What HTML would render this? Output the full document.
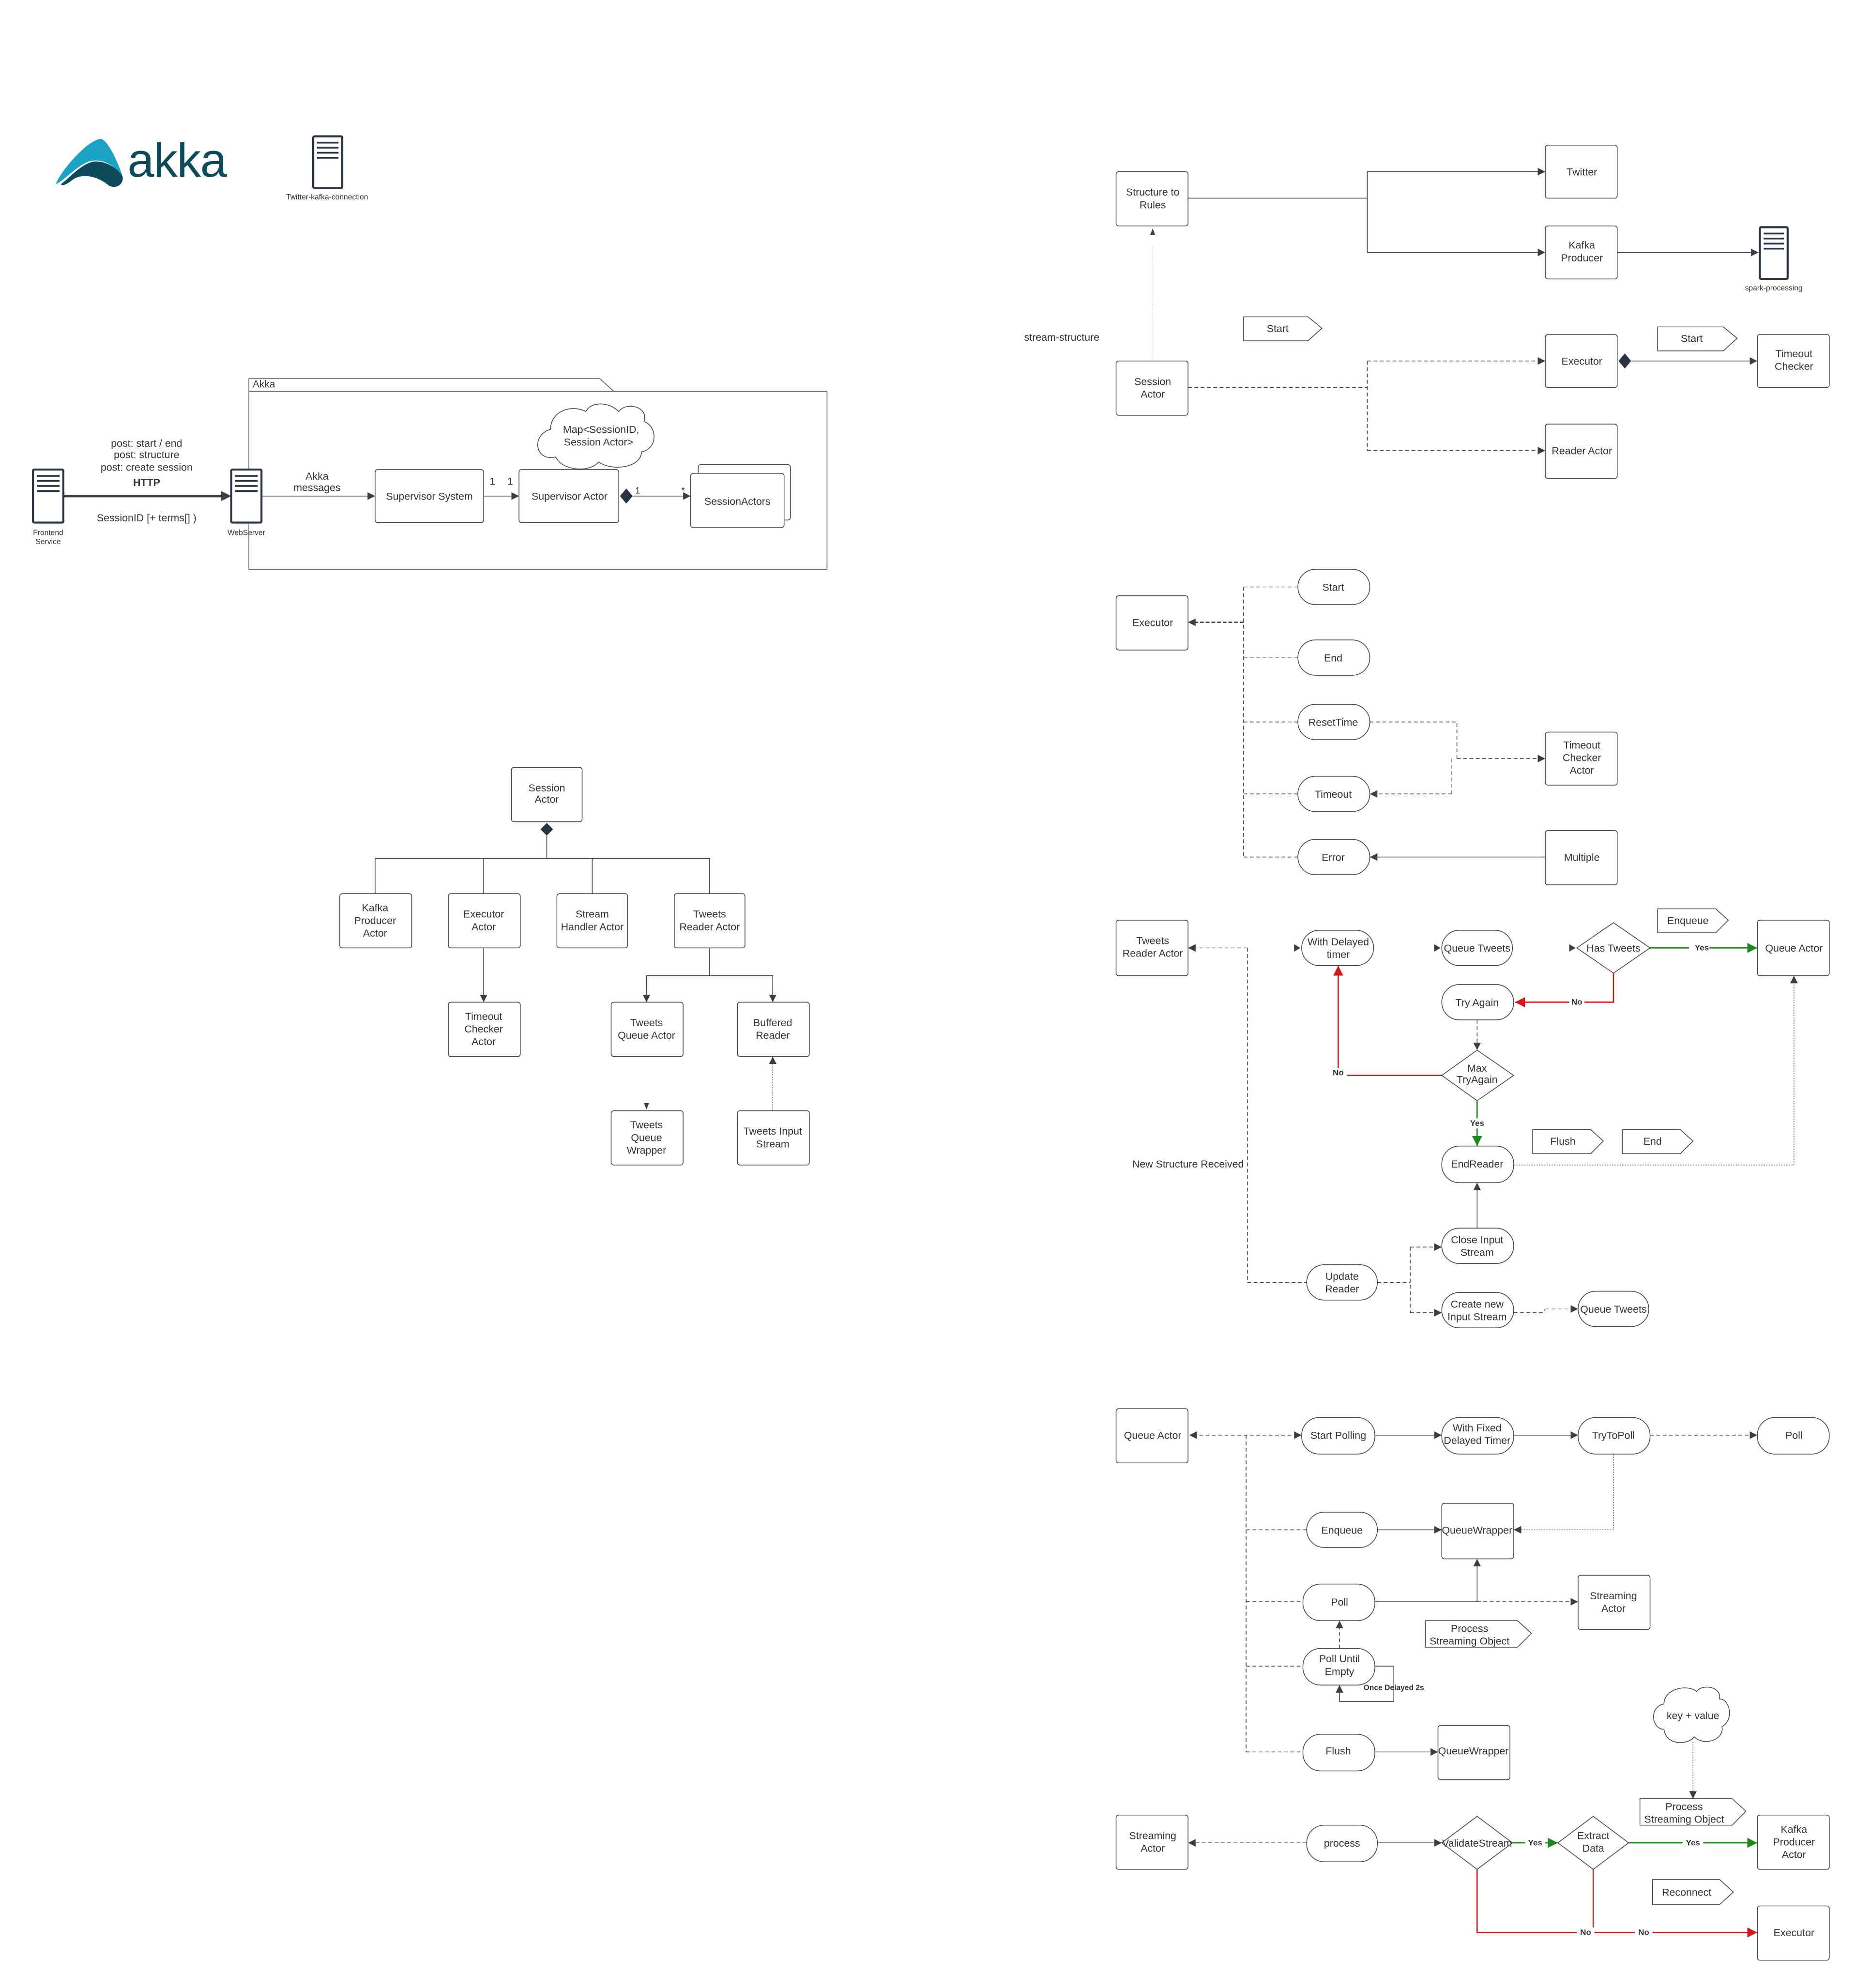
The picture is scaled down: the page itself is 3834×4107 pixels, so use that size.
<!DOCTYPE html>
<html><head><meta charset="utf-8">
<style>
html,body{margin:0;padding:0;background:#fff;}
svg{display:block;}
text{font-family:"Liberation Sans",sans-serif;font-size:8.2px;fill:#333;text-anchor:middle;}
.b{fill:#fff;stroke:#444;stroke-width:.6;}
.l{fill:none;stroke:#3a3f47;stroke-width:.6;}
.d{fill:none;stroke:#3a3f47;stroke-width:.6;stroke-dasharray:3,2;}
.g{fill:none;stroke:#999;stroke-width:.6;stroke-dasharray:3,2;}
.o{fill:none;stroke:#3a3f47;stroke-width:.5;stroke-dasharray:1,1;}
.r{fill:none;stroke:#d81818;stroke-width:1;}
.gr{fill:none;stroke:#1a8a1a;stroke-width:1;}
.sv{fill:#fff;stroke:#2b3340;stroke-width:1.6;}
.bar{stroke:#2b3340;stroke-width:1.4;}
</style></head><body>
<svg width="3834" height="4107" viewBox="0 0 1470 1575" xmlns="http://www.w3.org/2000/svg">
<defs>
<marker id="a" markerUnits="userSpaceOnUse" markerWidth="7" markerHeight="7" refX="6" refY="3" orient="auto"><path d="M0,0 L6,3 L0,6 Z" fill="#3a3f47"/></marker>
<marker id="ar" markerUnits="userSpaceOnUse" markerWidth="9" markerHeight="9" refX="8" refY="4" orient="auto"><path d="M0,0 L8,4 L0,8 Z" fill="#d81818"/></marker>
<marker id="ag" markerUnits="userSpaceOnUse" markerWidth="9" markerHeight="9" refX="8" refY="4" orient="auto"><path d="M0,0 L8,4 L0,8 Z" fill="#1a8a1a"/></marker>
</defs>
<rect width="1470" height="1575" fill="#fff"/>

<!-- Akka logo -->
<path d="M44,146 C48,135 70,110 80,110 C86,112 94,130 97,140 C90,130 80,125 70,128 C60,132 52,142 44,146 Z" fill="#1ba3c6"/>
<path d="M48,146 C56,140 64,130 74,128 C84,127 94,134 97,140 C98,146 92,150 86,147 C78,140 66,137 58,142 C54,145 50,148 48,146 Z" fill="#0b4b5a"/>
<text x="140" y="140" style="font-size:38px;fill:#0b4b5a;letter-spacing:-0.5px">akka</text>

<!-- server icons -->
<g><rect x="248" y="108" width="23" height="41" rx="1" class="sv"/><line x1="251" y1="113" x2="268" y2="113" class="bar"/><line x1="251" y1="117" x2="268" y2="117" class="bar"/><line x1="251" y1="121" x2="268" y2="121" class="bar"/><line x1="251" y1="125" x2="268" y2="125" class="bar"/></g>
<text x="259" y="158" style="font-size:6px">Twitter-kafka-connection</text>

<!-- Akka package -->
<path d="M197,451 L197,300 L475,300 L486,310 L655,310 L655,451 Z" fill="none" stroke="#555" stroke-width=".6"/>
<line x1="197" y1="310" x2="486" y2="310" stroke="#555" stroke-width=".6"/>
<text x="200" y="307" style="text-anchor:start;font-size:8px">Akka</text>

<g><rect x="26" y="372" width="24" height="42" rx="1" class="sv"/><line x1="29" y1="377" x2="47" y2="377" class="bar"/><line x1="29" y1="381" x2="47" y2="381" class="bar"/><line x1="29" y1="385" x2="47" y2="385" class="bar"/><line x1="29" y1="389" x2="47" y2="389" class="bar"/></g>
<text x="38" y="424" style="font-size:6px">Frontend</text><text x="38" y="431" style="font-size:6px">Service</text>
<g><rect x="183" y="372" width="24" height="42" rx="1" class="sv"/><line x1="186" y1="377" x2="204" y2="377" class="bar"/><line x1="186" y1="381" x2="204" y2="381" class="bar"/><line x1="186" y1="385" x2="204" y2="385" class="bar"/><line x1="186" y1="389" x2="204" y2="389" class="bar"/></g>
<text x="195" y="424" style="font-size:6px">WebServer</text>
<line x1="50" y1="393" x2="177" y2="393" stroke="#3a3f47" stroke-width="2"/><path d="M175,389 L183,393 L175,397 Z" fill="#3a3f47"/>
<text x="116" y="354">post: start / end</text>
<text x="116" y="363">post: structure</text>
<text x="116" y="373">post: create session</text>
<text x="116" y="385" style="font-weight:bold">HTTP</text>
<text x="116" y="413">SessionID [+ terms[] )</text>
<line x1="207" y1="393" x2="297" y2="393" class="l" marker-end="url(#a)"/>
<text x="251" y="380">Akka</text><text x="251" y="389">messages</text>
<rect x="297" y="372" width="86" height="42" rx="2" class="b"/><text x="340" y="396">Supervisor System</text>
<line x1="383" y1="393" x2="411" y2="393" class="l" marker-end="url(#a)"/>
<text x="390" y="384">1</text><text x="404" y="384">1</text>
<rect x="411" y="372" width="79" height="42" rx="2" class="b"/><text x="451" y="396">Supervisor Actor</text>
<path d="M491,393 L496,387 L501,393 L496,399 Z" fill="#2b3340"/>
<line x1="501" y1="393" x2="547" y2="393" class="l" marker-end="url(#a)"/>
<text x="505" y="391" style="font-size:7px">1</text><text x="541" y="391" style="font-size:7px">*</text>
<rect x="553" y="368" width="73" height="44" rx="2" class="b"/>
<rect x="547" y="375" width="74" height="43" rx="2" class="b"/><text x="584" y="400">SessionActors</text>
<path d="M436,340 C420,345 424,366 440,362 C446,374 468,374 474,366 C486,374 508,370 508,358 C522,355 520,337 510,334 C514,322 496,318 490,326 C482,318 468,318 464,326 C452,320 436,326 436,340 Z" fill="#fff" stroke="#444" stroke-width=".6"/>
<text x="476" y="343">Map&lt;SessionID,</text><text x="474" y="353">Session Actor&gt;</text>

<!-- tree -->
<rect x="405" y="608" width="56" height="43" rx="2" class="b"/><text x="433" y="627">Session</text><text x="433" y="636">Actor</text>
<path d="M433,652 L438,657 L433,662 L428,657 Z" fill="#2b3340"/>
<path d="M433,662 L433,680 M297,708 L297,680 L562,680 L562,708 M383,680 L383,708 M469,680 L469,708" class="l"/>
<rect x="269" y="708" width="57" height="43" rx="2" class="b"/><text x="297" y="722">Kafka</text><text x="297" y="732">Producer</text><text x="297" y="742">Actor</text>
<rect x="355" y="708" width="57" height="43" rx="2" class="b"/><text x="383" y="727">Executor</text><text x="383" y="737">Actor</text>
<rect x="441" y="708" width="56" height="43" rx="2" class="b"/><text x="469" y="727">Stream</text><text x="469" y="737">Handler Actor</text>
<rect x="534" y="708" width="56" height="43" rx="2" class="b"/><text x="562" y="727">Tweets</text><text x="562" y="737">Reader Actor</text>
<line x1="383" y1="751" x2="383" y2="794" class="l" marker-end="url(#a)"/>
<rect x="355" y="794" width="57" height="43" rx="2" class="b"/><text x="383" y="808">Timeout</text><text x="383" y="818">Checker</text><text x="383" y="828">Actor</text>
<path d="M562,751 L562,773 M512,794 L512,773 L612,773 L612,794" class="l"/>
<line x1="512" y1="785" x2="512" y2="794" class="l" marker-end="url(#a)"/><line x1="612" y1="785" x2="612" y2="794" class="l" marker-end="url(#a)"/>
<rect x="484" y="794" width="57" height="43" rx="2" class="b"/><text x="512" y="813">Tweets</text><text x="512" y="823">Queue Actor</text>
<rect x="584" y="794" width="57" height="43" rx="2" class="b"/><text x="612" y="813">Buffered</text><text x="612" y="823">Reader</text>
<path d="M510,874 L514,874 L512,879 Z" fill="#3a3f47"/>
<rect x="484" y="880" width="57" height="43" rx="2" class="b"/><text x="512" y="894">Tweets</text><text x="512" y="904">Queue</text><text x="512" y="914">Wrapper</text>
<rect x="584" y="880" width="57" height="43" rx="2" class="b"/><text x="612" y="899">Tweets Input</text><text x="612" y="909">Stream</text>
<line x1="612" y1="880" x2="612" y2="837" class="o" marker-end="url(#a)"/>

<!-- right top -->
<rect x="884" y="136" width="57" height="43" rx="2" class="b"/><text x="913" y="155">Structure to</text><text x="913" y="165">Rules</text>
<path d="M911,186 L913,181 L915,186 Z" fill="#3a3f47"/>
<line x1="913" y1="195" x2="913" y2="286" stroke="#ccc" stroke-width=".4" stroke-dasharray="1,1"/>
<path d="M941,157 L1083,157 M1083,136 L1083,200" class="l"/>
<line x1="1083" y1="136" x2="1224" y2="136" class="l" marker-end="url(#a)"/>
<line x1="1083" y1="200" x2="1224" y2="200" class="l" marker-end="url(#a)"/>
<rect x="1224" y="115" width="57" height="42" rx="2" class="b"/><text x="1253" y="139">Twitter</text>
<rect x="1224" y="179" width="57" height="42" rx="2" class="b"/><text x="1253" y="197">Kafka</text><text x="1253" y="207">Producer</text>
<line x1="1281" y1="200" x2="1393" y2="200" class="l" marker-end="url(#a)"/>
<g><rect x="1394" y="180" width="22" height="41" rx="1" class="sv"/><line x1="1397" y1="185" x2="1413" y2="185" class="bar"/><line x1="1397" y1="189" x2="1413" y2="189" class="bar"/><line x1="1397" y1="193" x2="1413" y2="193" class="bar"/><line x1="1397" y1="197" x2="1413" y2="197" class="bar"/></g>
<text x="1405" y="230" style="font-size:6px">spark-processing</text>

<text x="841" y="270">stream-structure</text>
<path d="M985,251 L1036,251 L1047,260 L1036,270 L985,270 Z" class="b"/><text x="1012" y="263">Start</text>
<rect x="884" y="286" width="57" height="43" rx="2" class="b"/><text x="913" y="305">Session</text><text x="913" y="315">Actor</text>
<path d="M941,307 L1083,307 M1083,286 L1083,357" class="d"/>
<line x1="1083" y1="286" x2="1224" y2="286" class="d" marker-end="url(#a)"/>
<line x1="1083" y1="357" x2="1224" y2="357" class="d" marker-end="url(#a)"/>
<rect x="1224" y="265" width="57" height="42" rx="2" class="b"/><text x="1253" y="289">Executor</text>
<rect x="1224" y="336" width="57" height="43" rx="2" class="b"/><text x="1253" y="360">Reader Actor</text>
<path d="M1282,286 L1287,280 L1292,286 L1287,292 Z" fill="#2b3340"/>
<line x1="1292" y1="286" x2="1392" y2="286" class="l" marker-end="url(#a)"/>
<path d="M1313,259 L1365,259 L1376,268 L1365,278 L1313,278 Z" class="b"/><text x="1340" y="271">Start</text>
<rect x="1392" y="265" width="57" height="42" rx="2" class="b"/><text x="1421" y="283">Timeout</text><text x="1421" y="293">Checker</text>

<!-- executor section -->
<rect x="884" y="472" width="57" height="43" rx="2" class="b"/><text x="913" y="496">Executor</text>
<line x1="985" y1="493" x2="941" y2="493" stroke="#3a3f47" stroke-width="1" stroke-dasharray="3,1.5" marker-end="url(#a)"/>
<path d="M985,465 L985,679" class="d"/>
<path d="M985,465 L1028,465 M985,521 L1028,521" class="g"/>
<path d="M985,572 L1028,572 M985,629 L1028,629 M985,679 L1028,679" class="d"/>
<rect x="1028" y="451" width="57" height="28" rx="14" class="b"/><text x="1056" y="468">Start</text>
<rect x="1028" y="507" width="57" height="28" rx="14" class="b"/><text x="1056" y="524">End</text>
<rect x="1028" y="558" width="57" height="28" rx="14" class="b"/><text x="1056" y="575">ResetTime</text>
<rect x="1028" y="615" width="57" height="28" rx="14" class="b"/><text x="1056" y="632">Timeout</text>
<rect x="1028" y="665" width="57" height="28" rx="14" class="b"/><text x="1056" y="682">Error</text>
<path d="M1085,572 L1154,572 L1154,601" class="d"/>
<line x1="1154" y1="601" x2="1224" y2="601" class="d" marker-end="url(#a)"/>
<path d="M1150,601 L1150,629" class="d"/>
<line x1="1150" y1="629" x2="1085" y2="629" class="d" marker-end="url(#a)"/>
<rect x="1224" y="580" width="57" height="42" rx="2" class="b"/><text x="1253" y="593">Timeout</text><text x="1253" y="603">Checker</text><text x="1253" y="613">Actor</text>
<rect x="1224" y="658" width="57" height="43" rx="2" class="b"/><text x="1253" y="682">Multiple</text>
<line x1="1224" y1="679" x2="1085" y2="679" class="l" marker-end="url(#a)"/>

<!-- tweets reader section -->
<rect x="884" y="729" width="57" height="44" rx="2" class="b"/><text x="913" y="748">Tweets</text><text x="913" y="758">Reader Actor</text>
<line x1="988" y1="751" x2="941" y2="751" class="g" marker-end="url(#a)"/>
<path d="M988,751 L988,1016 L1035,1016" class="d"/>
<text x="941" y="925">New Structure Received</text>
<rect x="1031" y="737" width="57" height="28" rx="14" class="b"/><text x="1060" y="749">With Delayed</text><text x="1060" y="759">timer</text>
<path d="M1025,748 L1030,751 L1025,754 Z" fill="#3a3f47"/>
<rect x="1142" y="737" width="56" height="28" rx="14" class="b"/><text x="1170" y="754">Queue Tweets</text>
<path d="M1136,748 L1141,751 L1136,754 Z" fill="#3a3f47"/>
<path d="M1278,731 L1307,751 L1278,771 L1249,751 Z" class="b"/><text x="1278" y="754">Has Tweets</text>
<path d="M1243,748 L1248,751 L1243,754 Z" fill="#3a3f47"/>
<line x1="1307" y1="751" x2="1392" y2="751" class="gr" marker-end="url(#ag)"/>
<rect x="1338" y="746" width="16" height="9" fill="#fff"/><text x="1348" y="753" style="font-size:6.5px;font-weight:bold">Yes</text>
<rect x="1392" y="729" width="57" height="44" rx="2" class="b"/><text x="1421" y="754">Queue Actor</text>
<path d="M1313,720 L1359,720 L1369,729 L1359,739 L1313,739 Z" class="b"/><text x="1337" y="732">Enqueue</text>
<path d="M1278,771 L1278,794 L1200,794" class="r" marker-end="url(#ar)"/>
<rect x="1243" y="790" width="12" height="8" fill="#fff"/><text x="1249" y="796" style="font-size:6.5px;font-weight:bold">No</text>
<rect x="1142" y="780" width="57" height="28" rx="14" class="b"/><text x="1170" y="797">Try Again</text>
<line x1="1170" y1="808" x2="1170" y2="832" class="d" marker-end="url(#a)"/>
<path d="M1170,832 L1199,852 L1170,872 L1142,852 Z" class="b"/><text x="1170" y="849">Max</text><text x="1170" y="858">TryAgain</text>
<path d="M1142,852 L1060,852 L1060,765" class="r" marker-end="url(#ar)"/>
<rect x="1053" y="846" width="14" height="8" fill="#fff"/><text x="1060" y="852" style="font-size:6.5px;font-weight:bold">No</text>
<path d="M1170,872 L1170,908" class="gr" marker-end="url(#ag)"/>
<rect x="1162" y="886" width="16" height="8" fill="#fff"/><text x="1170" y="892" style="font-size:6.5px;font-weight:bold">Yes</text>
<rect x="1142" y="908" width="57" height="29" rx="14" class="b"/><text x="1170" y="925">EndReader</text>
<path d="M1199,923 L1421,923 L1421,773" class="o" marker-end="url(#a)"/>
<path d="M1214,895 L1260,895 L1270,904 L1260,914 L1214,914 Z" class="b"/><text x="1238" y="907">Flush</text>
<path d="M1285,895 L1331,895 L1341,904 L1331,914 L1285,914 Z" class="b"/><text x="1309" y="907">End</text>
<rect x="1142" y="973" width="57" height="28" rx="14" class="b"/><text x="1170" y="985">Close Input</text><text x="1170" y="995">Stream</text>
<line x1="1170" y1="973" x2="1170" y2="937" class="l" marker-end="url(#a)"/>
<rect x="1035" y="1002" width="56" height="28" rx="14" class="b"/><text x="1063" y="1014">Update</text><text x="1063" y="1024">Reader</text>
<path d="M1091,1016 L1117,1016 M1117,988 L1117,1040" class="d"/>
<line x1="1117" y1="988" x2="1142" y2="988" class="d" marker-end="url(#a)"/>
<line x1="1117" y1="1040" x2="1142" y2="1040" class="d" marker-end="url(#a)"/>
<rect x="1142" y="1024" width="57" height="28" rx="14" class="b"/><text x="1170" y="1036">Create new</text><text x="1170" y="1046">Input Stream</text>
<path d="M1199,1040 L1222,1040 L1224,1037" class="d"/>
<line x1="1224" y1="1037" x2="1250" y2="1037" class="g" marker-end="url(#a)"/>
<rect x="1250" y="1023" width="56" height="28" rx="14" class="b"/><text x="1278" y="1040">Queue Tweets</text>

<!-- queue actor section -->
<rect x="884" y="1116" width="57" height="43" rx="2" class="b"/><text x="913" y="1140">Queue Actor</text>
<line x1="950" y1="1137" x2="1031" y2="1137" class="d" marker-end="url(#a)"/>
<path d="M948,1134 L942,1137 L948,1140 Z" fill="#3a3f47"/>
<path d="M987,1137 L987,1388" class="d"/>
<path d="M987,1212 L1035,1212 M987,1269 L1032,1269 M987,1320 L1032,1320 M987,1388 L1032,1388" class="d"/>
<rect x="1031" y="1123" width="58" height="29" rx="14" class="b"/><text x="1060" y="1140">Start Polling</text>
<line x1="1089" y1="1137" x2="1142" y2="1137" class="l" marker-end="url(#a)"/>
<rect x="1142" y="1123" width="57" height="29" rx="14" class="b"/><text x="1170" y="1134">With Fixed</text><text x="1170" y="1144">Delayed Timer</text>
<line x1="1199" y1="1137" x2="1250" y2="1137" class="l" marker-end="url(#a)"/>
<rect x="1250" y="1123" width="57" height="29" rx="14" class="b"/><text x="1278" y="1140">TryToPoll</text>
<line x1="1307" y1="1137" x2="1392" y2="1137" class="d" marker-end="url(#a)"/>
<rect x="1392" y="1123" width="57" height="29" rx="14" class="b"/><text x="1421" y="1140">Poll</text>
<path d="M1278,1152 L1278,1212 L1199,1212" class="o" marker-end="url(#a)"/>
<rect x="1035" y="1198" width="56" height="28" rx="14" class="b"/><text x="1063" y="1215">Enqueue</text>
<line x1="1091" y1="1212" x2="1142" y2="1212" class="l" marker-end="url(#a)"/>
<rect x="1142" y="1191" width="57" height="44" rx="2" class="b"/><text x="1170" y="1215">QueueWrapper</text>
<rect x="1032" y="1255" width="57" height="29" rx="14" class="b"/><text x="1061" y="1272">Poll</text>
<path d="M1089,1269 L1170,1269" class="l"/>
<line x1="1170" y1="1269" x2="1170" y2="1235" class="l" marker-end="url(#a)"/>
<line x1="1170" y1="1269" x2="1250" y2="1269" class="d" marker-end="url(#a)"/>
<rect x="1250" y="1248" width="57" height="43" rx="2" class="b"/><text x="1278" y="1267">Streaming</text><text x="1278" y="1277">Actor</text>
<path d="M1129,1284 L1202,1284 L1213,1294 L1202,1305 L1129,1305 Z" class="b"/><text x="1164" y="1293">Process</text><text x="1164" y="1303">Streaming Object</text>
<rect x="1032" y="1306" width="57" height="29" rx="14" class="b"/><text x="1061" y="1317">Poll Until</text><text x="1061" y="1327">Empty</text>
<line x1="1061" y1="1306" x2="1061" y2="1284" class="d" marker-end="url(#a)"/>
<path d="M1089,1320 L1104,1320 L1104,1348 L1061,1348 L1061,1335" class="l" marker-end="url(#a)"/>
<text x="1104" y="1339" style="font-size:6px;font-weight:bold">Once Delayed 2s</text>
<rect x="1032" y="1374" width="57" height="29" rx="14" class="b"/><text x="1060" y="1390">Flush</text>
<line x1="1089" y1="1388" x2="1139" y2="1388" class="l" marker-end="url(#a)"/>
<rect x="1139" y="1367" width="57" height="43" rx="2" class="b"/><text x="1167" y="1390">QueueWrapper</text>

<!-- streaming section -->
<rect x="884" y="1438" width="57" height="43" rx="2" class="b"/><text x="913" y="1457">Streaming</text><text x="913" y="1467">Actor</text>
<line x1="1035" y1="1460" x2="941" y2="1460" class="d" marker-end="url(#a)"/>
<rect x="1035" y="1446" width="56" height="29" rx="14" class="b"/><text x="1063" y="1463">process</text>
<line x1="1091" y1="1460" x2="1142" y2="1460" class="l" marker-end="url(#a)"/>
<path d="M1170,1439 L1198,1460 L1170,1481 L1142,1460 Z" class="b"/><text x="1170" y="1463">ValidateStream</text>
<line x1="1198" y1="1460" x2="1234" y2="1460" class="gr" marker-end="url(#ag)"/>
<rect x="1208" y="1455" width="16" height="8" fill="#fff"/><text x="1216" y="1462" style="font-size:6.5px;font-weight:bold">Yes</text>
<path d="M1262,1439 L1290,1460 L1262,1481 L1234,1460 Z" class="b"/><text x="1262" y="1457">Extract</text><text x="1262" y="1467">Data</text>
<line x1="1290" y1="1460" x2="1392" y2="1460" class="gr" marker-end="url(#ag)"/>
<rect x="1333" y="1455" width="16" height="8" fill="#fff"/><text x="1341" y="1462" style="font-size:6.5px;font-weight:bold">Yes</text>
<rect x="1392" y="1438" width="57" height="43" rx="2" class="b"/><text x="1421" y="1452">Kafka</text><text x="1421" y="1462">Producer</text><text x="1421" y="1472">Actor</text>
<path d="M1299,1425 L1372,1425 L1383,1435 L1372,1446 L1299,1446 Z" class="b"/><text x="1334" y="1434">Process</text><text x="1334" y="1444">Streaming Object</text>
<path d="M1318,1350 C1306,1352 1308,1370 1318,1370 C1320,1384 1338,1382 1342,1376 C1350,1384 1366,1378 1364,1368 C1374,1362 1370,1346 1362,1346 C1364,1336 1348,1334 1344,1340 C1336,1334 1318,1338 1318,1350 Z" fill="#fff" stroke="#444" stroke-width=".6"/>
<text x="1341" y="1362">key + value</text>
<line x1="1341" y1="1380" x2="1341" y2="1425" class="o" marker-end="url(#a)"/>
<path d="M1309,1489 L1362,1489 L1373,1499 L1362,1509 L1309,1509 Z" class="b"/><text x="1336" y="1502">Reconnect</text>
<path d="M1170,1481 L1170,1531 L1392,1531" class="r" marker-end="url(#ar)"/>
<path d="M1262,1481 L1262,1531" class="r"/>
<rect x="1249" y="1527" width="14" height="8" fill="#fff"/><text x="1256" y="1533" style="font-size:6.5px;font-weight:bold">No</text>
<rect x="1295" y="1527" width="14" height="8" fill="#fff"/><text x="1302" y="1533" style="font-size:6.5px;font-weight:bold">No</text>
<rect x="1392" y="1510" width="57" height="43" rx="2" class="b"/><text x="1421" y="1534">Executor</text>
</svg>
</body></html>
